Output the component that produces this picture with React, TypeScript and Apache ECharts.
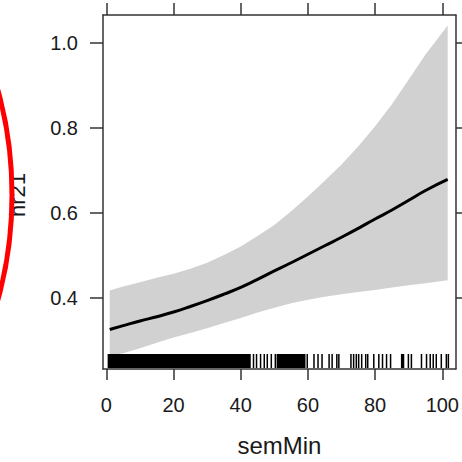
import React, { useEffect, useRef } from "react";
import * as echarts from "echarts";

// Effect curve of semMin on hr21
const xs = [1, 5, 10, 15, 20, 25, 30, 35, 40, 45, 50, 55, 60, 65, 70, 75, 80, 85, 90, 95, 101.6];
const fit = [
  0.325, 0.334, 0.345, 0.355, 0.366, 0.379, 0.393, 0.408, 0.424, 0.443, 0.463, 0.482, 0.502,
  0.522, 0.542, 0.563, 0.585, 0.606, 0.629, 0.652, 0.678,
];
const upper = [
  0.417, 0.426, 0.436, 0.447, 0.456, 0.468, 0.482, 0.5, 0.52, 0.545, 0.571, 0.603, 0.638,
  0.675, 0.713, 0.756, 0.803, 0.855, 0.913, 0.972, 1.04,
];
const lower = [
  0.262, 0.269, 0.281, 0.294, 0.306, 0.317, 0.328, 0.34, 0.352, 0.365, 0.376, 0.387, 0.395,
  0.402, 0.408, 0.413, 0.418, 0.424, 0.429, 0.434, 0.441,
];

// Rug: dense blocks (start, end) and single ticks
const rugBlocks = [
  [0.6, 43.2],
  [50.9, 59.5],
  [87.9, 88.9],
];
const rugTicks = [
  43.8, 44.7, 45.9, 47.0, 47.9, 49.1, 50.3, 59.8, 61.8, 63.0, 64.2, 66.3, 67.2, 68.6, 69.2,
  72.8, 73.6, 74.4, 75.1, 76.0, 77.2, 77.8, 79.6, 81.1, 82.2, 83.4, 84.6, 89.9, 90.8, 93.8,
  95.3, 96.4, 97.3, 98.2, 99.7, 101.2, 101.8,
];

const xTickValues = [0, 20, 40, 60, 80, 100];
const yTickValues = [0.4, 0.6, 0.8, 1.0];
const X_MIN = -1;
const X_MAX = 104;
const Y_MIN = 0.232;
const Y_MAX = 1.065;

const FONT = "'Liberation Sans', Arial, sans-serif";
const AXIS_COLOR = "#333";
const TEXT_COLOR = "#1a1a1a";
const BAND_COLOR = "#d1d1d1";

export default function App() {
  const ref = useRef<HTMLDivElement>(null);

  useEffect(() => {
    if (!ref.current) return;
    const chart = echarts.init(ref.current, null, { renderer: "svg" });

    const lineStyle = { color: AXIS_COLOR, width: 1.5 };
    const rugData = [
      ...rugBlocks.map((b) => [b[0], b[1]]),
      ...rugTicks.map((t) => [t, t]),
    ];
    const bandData = xs.map((x, i) => [x, lower[i], upper[i]]);

    chart.setOption({
      animation: false,
      textStyle: { fontFamily: FONT },
      grid: { left: 103, right: 5, top: 15, bottom: 90 },
      xAxis: [
        {
          type: "value",
          position: "bottom",
          min: X_MIN,
          max: X_MAX,
          axisLine: { show: true, onZero: false, lineStyle },
          axisTick: { show: true, length: 11, lineStyle, customValues: xTickValues },
          axisLabel: {
            customValues: xTickValues,
            fontSize: 20,
            margin: 26,
            color: TEXT_COLOR,
            fontFamily: FONT,
          },
          splitLine: { show: false },
          name: "semMin",
          nameLocation: "middle",
          nameGap: 64,
          nameTextStyle: { fontSize: 24, color: TEXT_COLOR, fontFamily: FONT },
          z: 5,
        },
        {
          type: "value",
          position: "top",
          min: X_MIN,
          max: X_MAX,
          axisLine: { show: true, onZero: false, lineStyle },
          axisTick: { show: true, length: 12, lineStyle, customValues: xTickValues },
          axisLabel: { show: false, customValues: xTickValues },
          splitLine: { show: false },
          z: 5,
        },
      ],
      yAxis: [
        {
          type: "value",
          position: "left",
          min: Y_MIN,
          max: Y_MAX,
          axisLine: { show: true, onZero: false, lineStyle },
          axisTick: { show: true, length: 13, lineStyle, customValues: yTickValues },
          axisLabel: {
            customValues: yTickValues,
            fontSize: 20,
            margin: 25,
            color: TEXT_COLOR,
            fontFamily: FONT,
            formatter: (v: number) => v.toFixed(1),
          },
          splitLine: { show: false },
          z: 5,
        },
        {
          type: "value",
          position: "right",
          min: Y_MIN,
          max: Y_MAX,
          axisLine: { show: true, onZero: false, lineStyle },
          axisTick: { show: true, length: 11, lineStyle, customValues: yTickValues },
          axisLabel: { show: false, customValues: yTickValues },
          splitLine: { show: false },
          z: 5,
        },
      ],
      series: [
        {
          type: "custom",
          name: "band",
          data: bandData,
          encode: { x: 0, y: [1, 2] },
          z: 1,
          renderItem: (params: any, api: any) => {
            if (params.dataIndex !== 0) return null;
            const top = bandData.map((d) => api.coord([d[0], d[2]]));
            const bottom = bandData
              .slice()
              .reverse()
              .map((d) => api.coord([d[0], d[1]]));
            return {
              type: "polygon",
              shape: { points: top.concat(bottom) },
              style: { fill: BAND_COLOR },
            };
          },
        },
        {
          type: "line",
          name: "fit",
          data: xs.map((x, i) => [x, fit[i]]),
          smooth: true,
          symbol: "none",
          lineStyle: { color: "#000", width: 3 },
          z: 3,
        },
        {
          type: "custom",
          name: "rug",
          data: rugData,
          encode: { x: [0, 1] },
          z: 4,
          renderItem: (_params: any, api: any) => {
            const p0 = api.coord([api.value(0), Y_MIN]);
            const p1 = api.coord([api.value(1), Y_MIN]);
            const w = Math.max(p1[0] - p0[0], 1.5);
            return {
              type: "rect",
              shape: { x: p0[0] - 0.75, y: p0[1] - 15, width: w, height: 14 },
              style: { fill: "#000" },
            };
          },
        },
      ],
      graphic: [
        {
          type: "text",
          x: 17,
          y: 195,
          rotation: Math.PI / 2,
          style: {
            text: "hr21",
            fontSize: 22,
            fontFamily: FONT,
            fill: TEXT_COLOR,
            align: "center",
            verticalAlign: "middle",
          },
          z: 10,
        },
        {
          type: "ellipse",
          shape: { cx: -138, cy: 195, rx: 150, ry: 247 },
          style: { fill: "none", stroke: "#ff0000", lineWidth: 5 },
          z: 20,
        },
      ],
    });

    return () => chart.dispose();
  }, []);

  return (
    <div
      ref={ref}
      style={{ position: "fixed", left: 0, top: 0, width: 462, height: 462, background: "#fff" }}
    />
  );
}
